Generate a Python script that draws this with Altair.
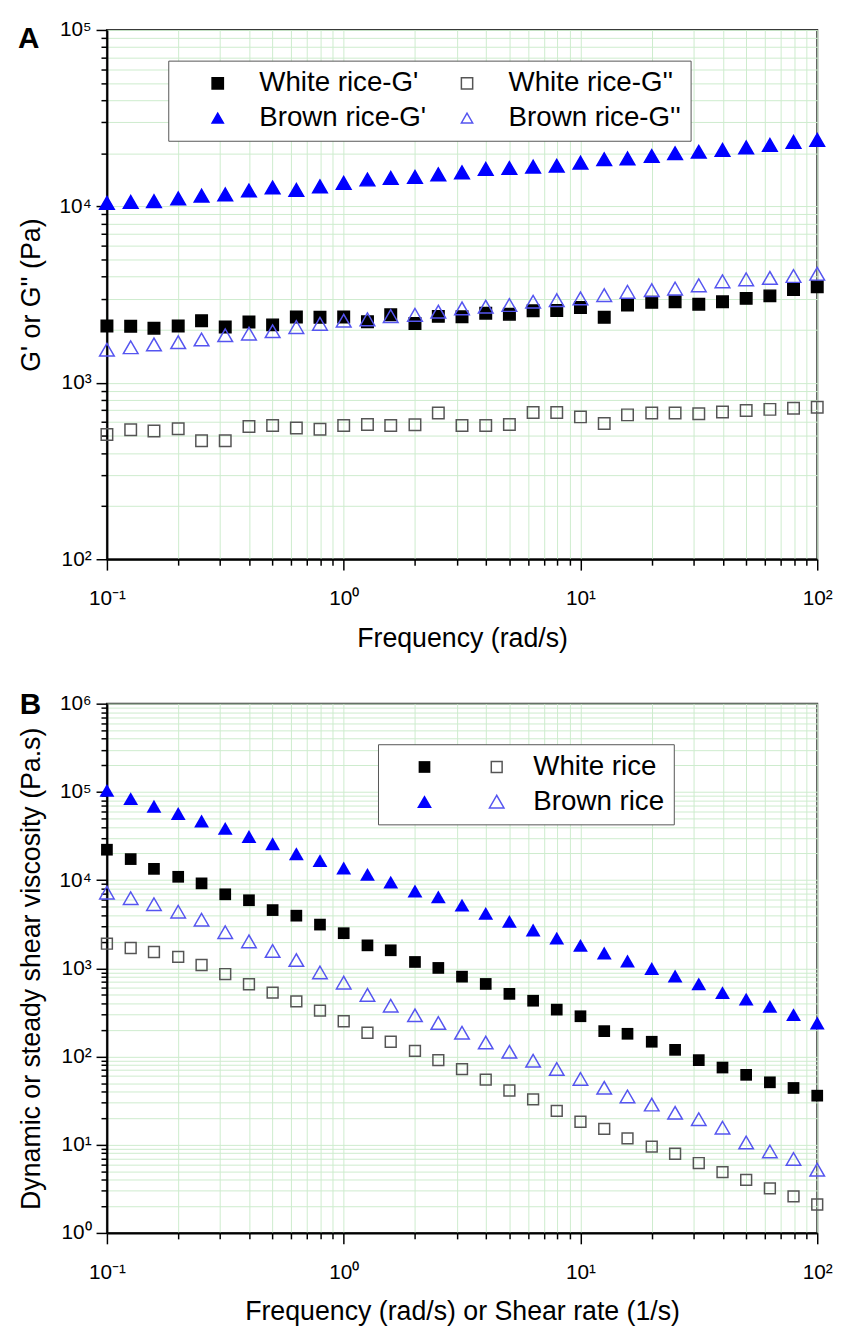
import altair as alt
import pandas as pd

# ---------------- data ----------------
freq = [0.1, 0.126, 0.158, 0.2, 0.251, 0.316, 0.398, 0.501, 0.631, 0.794,
        1.0, 1.26, 1.58, 2.0, 2.51, 3.16, 3.98, 5.01, 6.31, 7.94,
        10.0, 12.6, 15.8, 20.0, 25.1, 31.6, 39.8, 50.1, 63.1, 79.4, 100.0]

# Panel A: G' and G''
a_series = ["White rice-G'", "White rice-G''", "Brown rice-G'", "Brown rice-G''"]
white_g1 = [2100, 2090, 2040, 2100, 2250, 2070, 2210, 2130, 2360, 2350, 2360,
            2220, 2430, 2170, 2380, 2370, 2480, 2450, 2560, 2570, 2670, 2350,
            2760, 2860, 2880, 2790, 2880, 3010, 3110, 3380, 3500]
white_g2 = [510, 542, 533, 549, 469, 469, 566, 573, 554, 545, 573, 580, 573,
            578, 675, 573, 573, 580, 678, 678, 641, 588, 658, 675, 675, 667,
            684, 696, 707, 718, 727]
brown_g1 = [10470, 10600, 10700, 11100, 11500, 11700, 12300, 12800, 12400,
            13000, 13600, 14200, 14500, 14700, 15200, 15600, 16300, 16500,
            16800, 17000, 17700, 18500, 18700, 19300, 20000, 20400, 20900,
            21600, 22300, 23200, 23800]
brown_g2 = [1540, 1590, 1650, 1700, 1760, 1860, 1900, 1960, 2070, 2160, 2250,
            2290, 2390, 2430, 2530, 2640, 2700, 2760, 2880, 2940, 3010, 3140,
            3280, 3350, 3420, 3570, 3760, 3860, 3930, 4030, 4150]

# Panel B: dynamic (filled) and steady shear (open) viscosity
b_samples = ["White rice", "Brown rice"]
white_dyn = [22100, 17300, 13400, 10900, 9180, 6900, 5910, 4570, 3950, 3130,
             2500, 1820, 1600, 1180, 1010, 804, 665, 513, 429, 340, 286, 194,
             181, 147, 119, 91, 75, 62, 51, 44, 36]
brown_dyn = [104000, 83800, 68700, 56900, 46700, 38600, 31200, 25800, 19900,
             16600, 13700, 11600, 9500, 7530, 6450, 5200, 4200, 3410, 2720,
             2200, 1820, 1490, 1210, 995, 817, 665, 531, 448, 370, 299, 240]
white_steady = [1900, 1700, 1530, 1350, 1090, 861, 659, 531, 421, 331, 251,
                186, 147, 116, 91, 72, 54.7, 41.2, 32.7, 24.2, 18.2, 15.1,
                11.8, 9.5, 7.9, 6.2, 4.9, 4.0, 3.2, 2.6, 2.1]
brown_steady = [7210, 6230, 5330, 4380, 3560, 2570, 2020, 1570, 1240, 898,
                688, 500, 377, 293, 240, 186, 144, 113, 89.5, 72.2, 55.7, 44.2,
                35.3, 28.5, 23.0, 19.5, 15.6, 10.6, 8.4, 6.9, 5.2]

df_sq = pd.concat([pd.DataFrame({"freq": freq, "value": v, "series": s})
                   for s, v in zip(a_series[:2], [white_g1, white_g2])])
df_tri = pd.concat([pd.DataFrame({"freq": freq, "value": v, "series": s})
                    for s, v in zip(a_series[2:], [brown_g1, brown_g2])])
df_dyn = pd.concat([pd.DataFrame({"freq": freq, "value": v, "sample": s})
                    for s, v in zip(b_samples, [white_dyn, brown_dyn])])
df_st = pd.concat([pd.DataFrame({"freq": freq, "value": v, "sample": s})
                   for s, v in zip(b_samples, [white_steady, brown_steady])])

# ---------------- styling helpers ----------------
FONT = "Liberation Sans"
SUP = {-1: "⁻¹", 0: "⁰", 1: "¹", 2: "²", 3: "³", 4: "⁴", 5: "⁵", 6: "⁶"}
LG = "(log(datum.value)/LN10)"
MAJOR = f"abs({LG} - round({LG})) < 0.001"
GRID = "#cdeccd"


def lab_expr(lo, hi):
    expr = "''"
    for e in range(hi, lo - 1, -1):
        expr = f"round({LG}) == {e} ? '10{SUP[e]}' : ({expr})"
    return f"{MAJOR} ? ({expr}) : ''"


def tick_vals(lo, hi):
    vals = [float(f"{k}e{e}") for e in range(lo, hi) for k in range(1, 10)]
    vals.append(float(f"1e{hi}"))
    return vals


def make_axis(title, lo, hi, label_pad, title_pad):
    return alt.Axis(
        title=title, values=tick_vals(lo, hi), labelExpr=lab_expr(lo, hi),
        tickSize={"condition": {"test": MAJOR, "value": 11}, "value": 6},
        tickColor="black", tickWidth=1.5, domainColor="black", domainWidth=2,
        grid=True, gridColor=GRID, gridWidth=1,
        labelFont=FONT, labelFontSize=21, labelColor="black",
        labelPadding=label_pad, labelFlush=False, labelOverlap=False,
        titleFont=FONT, titleFontSize=27, titleFontWeight="normal",
        titleColor="black", titlePadding=title_pad,
    )


W, H = 718, 535
xscale = alt.Scale(type="log", domain=[0.1, 100], nice=False)

# ---------------- panel A ----------------
xa_a = make_axis("Frequency (rad/s)", -1, 2, 18, 17)
ya_a = make_axis("G' or G'' (Pa)", 2, 5, 5, 14)
yscale_a = alt.Scale(type="log", domain=[100, 1e5], nice=False)
leg_a = alt.Legend(
    orient="none", legendX=62, legendY=31, columns=2, direction="horizontal",
    title=None,
    labelFont=FONT, labelFontSize=28, labelColor="black", labelLimit=400,
    symbolSize=130, symbolStrokeWidth=1.5, symbolOffset=27, labelOffset=28,
    padding=9, rowPadding=7, columnPadding=0,
    strokeColor="#555555", fillColor="white",
)
enc_a = dict(
    x=alt.X("freq:Q", scale=xscale, axis=xa_a),
    y=alt.Y("value:Q", scale=yscale_a, axis=ya_a),
    shape=alt.Shape("series:N", legend=leg_a,
                    scale=alt.Scale(domain=a_series,
                                    range=["square", "square", "triangle-up", "triangle-up"])),
    fill=alt.Fill("series:N", legend=leg_a,
                  scale=alt.Scale(domain=a_series,
                                  range=["#000000", "transparent", "#0000ff", "transparent"])),
    color=alt.Color("series:N", legend=leg_a,
                    scale=alt.Scale(domain=a_series,
                                    range=["#000000", "#555555", "#0000ff", "#5555f0"])),
)
sq_a = alt.Chart(df_sq).mark_point(filled=False, opacity=1, strokeWidth=1.5, size=135).encode(**enc_a)
tri_a = alt.Chart(df_tri).mark_point(filled=False, opacity=1, strokeWidth=1.5, size=220).encode(**enc_a)
lab_a = alt.Chart(pd.DataFrame({"t": ["A"]})).mark_text(
    font=FONT, fontSize=30, fontWeight="bold", align="left", baseline="alphabetic",
    color="black").encode(x=alt.value(-90), y=alt.value(18), text="t:N")
panel_a = alt.layer(sq_a, tri_a, lab_a).properties(width=W, height=H)

# ---------------- panel B ----------------
yscale_b = alt.Scale(type="log", domain=[1, 1e6], nice=False)
xa_b = make_axis("Frequency (rad/s) or Shear rate (1/s)", -1, 2, 18, 17)
ya_b = make_axis("Dynamic or steady shear viscosity (Pa.s)", 0, 6, 5, 14)

leg_b1 = alt.Legend(
    orient="none", legendX=274, legendY=41, title=None,
    labelFont=FONT, labelFontSize=28, labelColor="black", labelLimit=400,
    symbolSize=130, symbolStrokeWidth=1.5, symbolOffset=24, labelOffset=96,
    padding=9, rowPadding=7, strokeColor="#555555", fillColor="white",
)
leg_b2 = alt.Legend(
    orient="none", legendX=371, legendY=41, title=None, labelExpr="' '",
    labelFont=FONT, labelFontSize=28, labelColor="black",
    symbolSize=130, symbolStrokeWidth=1.5, symbolOffset=0, labelOffset=2,
    padding=9, rowPadding=7,
)
dyn = alt.Chart(df_dyn).mark_point(filled=True, opacity=1, strokeWidth=1).encode(
    x=alt.X("freq:Q", scale=xscale, axis=xa_b),
    y=alt.Y("value:Q", scale=yscale_b, axis=ya_b),
    color=alt.Color("sample:N", legend=leg_b1,
                    scale=alt.Scale(domain=b_samples, range=["#000000", "#0000ff"])),
    shape=alt.Shape("sample:N", legend=leg_b1,
                    scale=alt.Scale(domain=b_samples, range=["square", "triangle-up"])),
    size=alt.Size("sample:N", legend=None,
                  scale=alt.Scale(domain=b_samples, range=[140, 225])),
)
st = alt.Chart(df_st).mark_point(filled=False, opacity=1, strokeWidth=1.5).encode(
    x=alt.X("freq:Q", scale=xscale, axis=xa_b),
    y=alt.Y("value:Q", scale=yscale_b, axis=ya_b),
    color=alt.Color("sample:N", legend=leg_b2,
                    scale=alt.Scale(domain=b_samples, range=["#555555", "#5555f0"])),
    shape=alt.Shape("sample:N", legend=leg_b2,
                    scale=alt.Scale(domain=b_samples, range=["square", "triangle-up"])),
    size=alt.Size("sample:N", legend=None,
                  scale=alt.Scale(domain=b_samples, range=[120, 215])),
)
lab_b = alt.Chart(pd.DataFrame({"t": ["B"]})).mark_text(
    font=FONT, fontSize=30, fontWeight="bold", align="left", baseline="alphabetic",
    color="black").encode(x=alt.value(-88), y=alt.value(10), text="t:N")
panel_b = alt.layer(dyn, st, lab_b).resolve_scale(
    color="independent", shape="independent", size="independent"
).resolve_legend(color="independent", shape="independent").properties(width=W, height=H)

chart = alt.vconcat(panel_a, panel_b, spacing=37).configure(
    font=FONT, padding={"left": 8, "top": 3, "right": 5, "bottom": 5}
).configure_view(stroke="#333333", strokeWidth=2)

chart.save("out.html", embed_options={"renderer": "svg", "actions": False})
